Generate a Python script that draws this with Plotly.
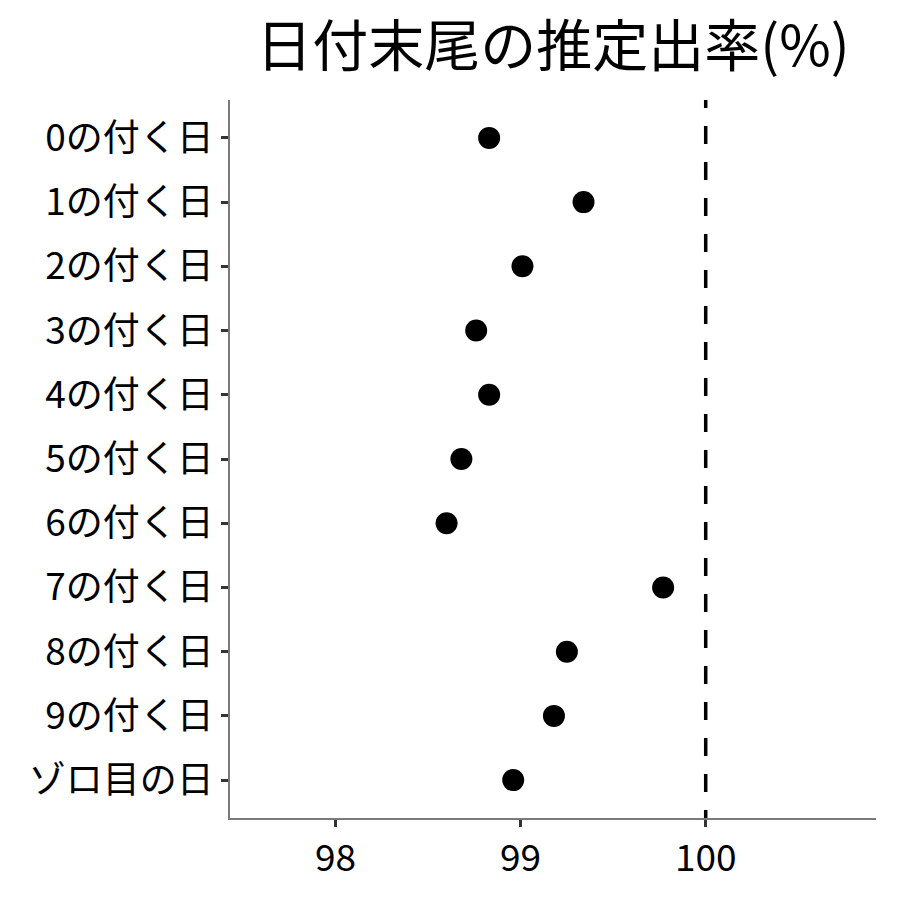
import plotly.graph_objects as go

categories = ["0の付く日", "1の付く日", "2の付く日", "3の付く日", "4の付く日",
              "5の付く日", "6の付く日", "7の付く日", "8の付く日", "9の付く日", "ゾロ目の日"]
rates = [98.83, 99.34, 99.01, 98.76, 98.83, 98.68, 98.60, 99.77, 99.25, 99.18, 98.96]
x_ticks = [98, 99, 100]
ref_value = 100

FONT = "Noto Sans CJK JP"

fig = go.Figure()
fig.add_trace(go.Scatter(
    x=rates, y=categories, mode="markers",
    marker=dict(color="black", size=22, line=dict(width=0)),
    showlegend=False, hoverinfo="x+y",
))
# reference line, drawn top-down so the dash pattern phase matches
fig.add_shape(type="line", xref="x", yref="y", x0=ref_value, x1=ref_value, y0=-0.745, y1=10.9,
              line=dict(color="black", width=3.5, dash="18px,18px"), layer="below")

fig.update_layout(
    width=900, height=900,
    paper_bgcolor="white", plot_bgcolor="white",
    margin=dict(l=222, r=32, t=92, b=90, autoexpand=False),
    font=dict(family=FONT, color="black", size=34),
    title=dict(text="日付末尾の推定出率(%)", x=0.6056, xanchor="center", y=0.957, yanchor="middle",
               font=dict(size=56, family=FONT, color="black")),
    xaxis=dict(range=[97.43, 100.92], tickvals=x_ticks, ticktext=[str(v) for v in x_ticks],
               automargin=False,
               showgrid=False, zeroline=False, showline=True, linecolor="#7a7a7a", linewidth=1.5,
               ticks="outside", ticklen=7, tickwidth=2.5, tickcolor="#333333",
               tickfont=dict(size=37, family=FONT, color="black")),
    yaxis=dict(type="category", categoryorder="array", categoryarray=categories,
               automargin=False,
               range=[10.59, -0.59], showgrid=False, zeroline=False, showline=True,
               linecolor="#7a7a7a", linewidth=1.5,
               ticks="outside", ticklen=7, tickwidth=2.5, tickcolor="#333333",
               tickfont=dict(size=37, family=FONT, color="black")),
)

fig.write_html("out.html")
